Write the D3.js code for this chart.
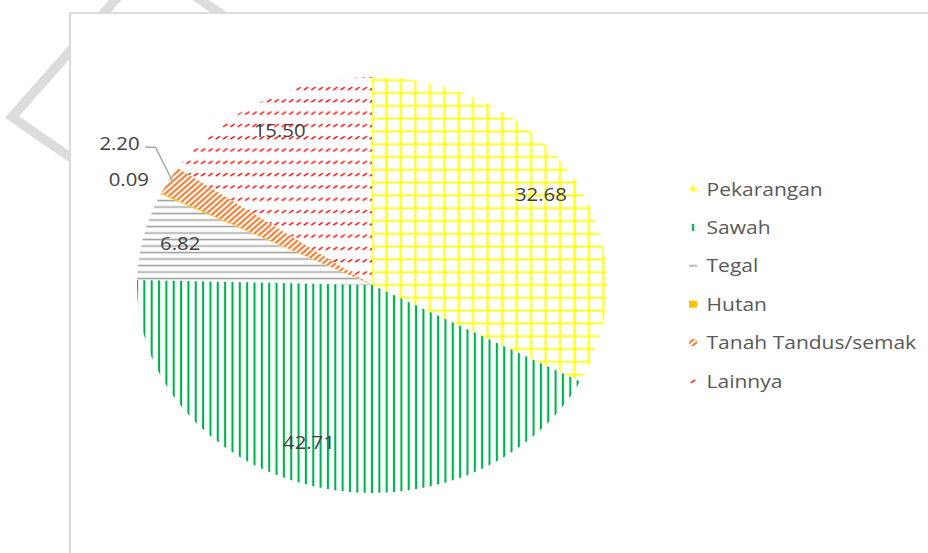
<!DOCTYPE html>
<html>
<head>
<meta charset="utf-8">
<script src="https://cdn.jsdelivr.net/npm/d3@7"></script>
<style>
  body { margin: 0; background: #fff; }
  text { font-family: "Open Sans", sans-serif; }
</style>
</head>
<body>
<div id="chart"></div>
<script>
// data
var categories = ["Pekarangan", "Sawah", "Tegal", "Hutan", "Tanah Tandus/semak", "Lainnya"];
var values = [32.68, 42.71, 6.82, 0.09, 2.20, 15.50];
var labels = ["32.68", "42.71", "6.82", "0.09", "2.20", "15.50"];
var colors = ["#ffff00", "#00b050", "#a5a5a5", "#ffc000", "#ed7d31", "#ff0000"];

var svgWidth = 928;
var svgHeight = 553;
var sx = 235 / 208; // the picture is stretched sideways

var radius = 208;
var cx = 372 / sx;
var cy = 285;

var svg = d3.select("#chart")
  .append("svg")
  .attr("width", svgWidth)
  .attr("height", svgHeight);

var defs = svg.append("defs");

// grid for Pekarangan
var p0 = defs.append("pattern")
  .attr("id", "pat0")
  .attr("patternUnits", "userSpaceOnUse")
  .attr("x", -6.4).attr("y", -6.4)
  .attr("width", 12.8).attr("height", 12.8);
p0.append("rect").attr("x", 5.55).attr("width", 1.7).attr("height", 12.8).attr("fill", colors[0]);
p0.append("rect").attr("y", 5.55).attr("height", 1.7).attr("width", 12.8).attr("fill", colors[0]);

// vertical lines for Sawah
var p1 = defs.append("pattern")
  .attr("id", "pat1")
  .attr("patternUnits", "userSpaceOnUse")
  .attr("x", -3.25)
  .attr("width", 6.5).attr("height", 10);
p1.append("rect").attr("x", 2.3).attr("width", 1.9).attr("height", 10).attr("fill", colors[1]);

// horizontal lines for Tegal
var p2 = defs.append("pattern")
  .attr("id", "pat2")
  .attr("patternUnits", "userSpaceOnUse")
  .attr("y", -3.25)
  .attr("width", 10).attr("height", 6.5);
p2.append("rect").attr("y", 2.5).attr("height", 1.6).attr("width", 10).attr("fill", colors[2]);

// diagonal hatch for Tanah Tandus
var p4 = defs.append("pattern")
  .attr("id", "pat4")
  .attr("patternUnits", "userSpaceOnUse")
  .attr("patternTransform", "rotate(45)")
  .attr("width", 4).attr("height", 4);
p4.append("rect").attr("x", 1).attr("width", 2).attr("height", 4).attr("fill", colors[4]);

// small dashes for Lainnya
var p5 = defs.append("pattern")
  .attr("id", "pat5")
  .attr("patternUnits", "userSpaceOnUse")
  .attr("x", -3.25).attr("y", -6)
  .attr("width", 6.5).attr("height", 12.3);
p5.append("path").attr("d", "M1.8,7.4L4.8,5.2")
  .attr("stroke", colors[5]).attr("stroke-width", 1.4).attr("stroke-linecap", "round");

var fills = ["url(#pat0)", "url(#pat1)", "url(#pat2)", colors[3], "url(#pat4)", "url(#pat5)"];

var root = svg.append("g").attr("transform", `scale(${sx},1)`);

// watermark letter peeking out behind the chart box
root.append("path")
  .attr("d", "M0,0V-195H100C170,-195 190,-150 190,-97C190,-40 165,0 100,0Z")
  .attr("transform", "translate(10.6,117) rotate(38)")
  .attr("fill", "none")
  .attr("stroke", "#dcdcdc")
  .attr("stroke-width", 9);

// chart box
root.append("rect")
  .attr("x", 70 / sx)
  .attr("y", 13)
  .attr("width", 1000)
  .attr("height", 1000)
  .attr("fill", "#fff")
  .attr("stroke", "#d9d9d9")
  .attr("stroke-width", 1.8);

var pie = d3.pie().sort(null).value(d => d);
var arcs = pie(values);

var arc = d3.arc().innerRadius(0).outerRadius(radius);
var labelArc = d3.arc().innerRadius(radius * 0.84).outerRadius(radius * 0.84);
var edgeArc = d3.arc().innerRadius(radius).outerRadius(radius);

// Excel's best-fit nudges the Sawah label a little
var labelNudge = { 1: [-12, -11] };

var pieGroup = root.append("g")
  .attr("transform", `translate(${cx}, ${cy})`);

pieGroup.selectAll("path.slice")
  .data(arcs)
  .enter()
  .append("path")
  .attr("class", "slice")
  .attr("d", arc)
  .attr("fill", (d, i) => fills[i]);

// labels inside the big slices
pieGroup.selectAll("text.inside")
  .data(arcs.filter(d => d.value >= 3))
  .enter()
  .append("text")
  .attr("class", "inside")
  .attr("x", d => labelArc.centroid(d)[0] + (labelNudge[d.index] ? labelNudge[d.index][0] : 0))
  .attr("y", d => labelArc.centroid(d)[1] + (labelNudge[d.index] ? labelNudge[d.index][1] : 0))
  .attr("dy", "0.35em")
  .attr("text-anchor", "middle")
  .attr("font-size", 18)
  .attr("fill", "#404040")
  .text(d => labels[d.index]);

// Tanah Tandus label with leader line
var tanah = edgeArc.centroid(arcs[4]);
pieGroup.append("path")
  .attr("d", d3.line()([
    [tanah[0] * 0.98, tanah[1] * 0.98],
    [tanah[0] - 12, tanah[1] - 33],
    [tanah[0] - 21, tanah[1] - 33]
  ]))
  .attr("fill", "none")
  .attr("stroke", "#a6a6a6")
  .attr("stroke-width", 1.3);
pieGroup.append("text")
  .attr("x", tanah[0] - 26)
  .attr("y", tanah[1] - 36.6)
  .attr("dy", "0.35em")
  .attr("text-anchor", "end")
  .attr("font-size", 18)
  .attr("fill", "#404040")
  .text(labels[4]);

// Hutan label, no leader
var hutan = edgeArc.centroid(arcs[3]);
pieGroup.append("text")
  .attr("x", hutan[0] - 10.7)
  .attr("y", hutan[1] - 14)
  .attr("dy", "0.35em")
  .attr("text-anchor", "end")
  .attr("font-size", 18)
  .attr("fill", "#404040")
  .text(labels[3]);

// legend
var legendY = d3.scalePoint().domain(categories).range([189, 381]);

var legend = root.selectAll("g.legend")
  .data(categories)
  .enter()
  .append("g")
  .attr("class", "legend")
  .attr("transform", d => `translate(${693 / sx}, ${legendY(d)})`);

legend.append("rect")
  .attr("x", -3.5)
  .attr("y", -3.5)
  .attr("width", 7)
  .attr("height", 7)
  .attr("fill", (d, i) => fills[i]);

legend.append("text")
  .attr("x", 12)
  .attr("dy", "0.35em")
  .attr("font-size", 18.6)
  .attr("fill", "#595959")
  .text(d => d);
</script>
</body>
</html>
